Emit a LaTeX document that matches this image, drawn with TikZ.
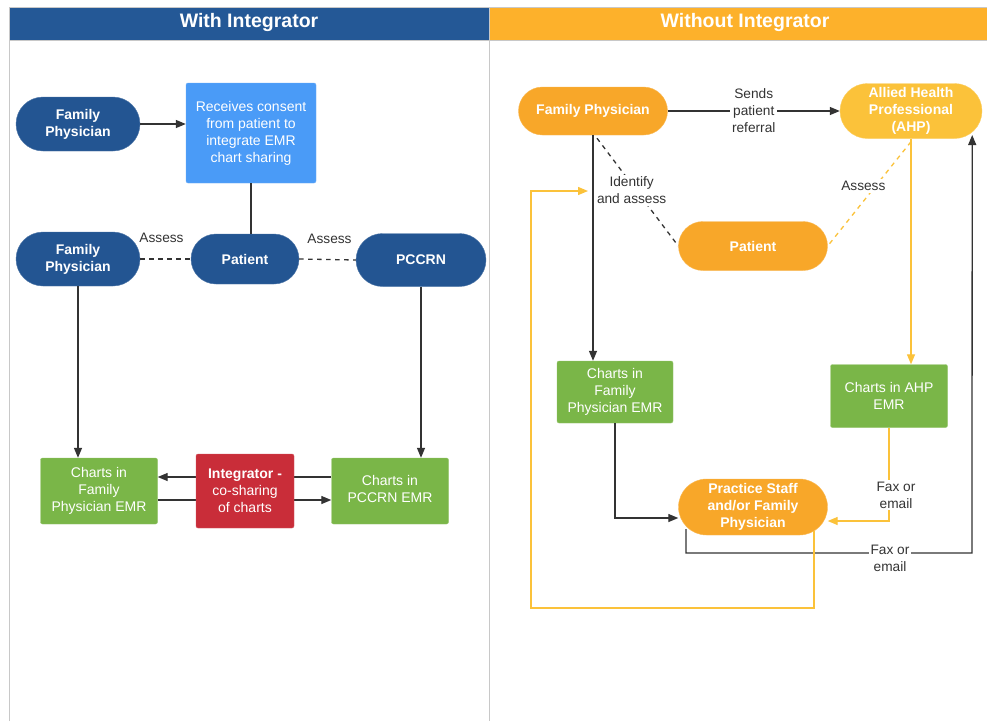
\documentclass[tikz,border=0pt]{standalone}
\usepackage{fontspec}
\setmainfont{Liberation Sans}
\usetikzlibrary{arrows.meta,calc}
\definecolor{hblue}{HTML}{245896}
\definecolor{nblue}{HTML}{235592}
\definecolor{lblue}{HTML}{4A9BF7}
\definecolor{horange}{HTML}{FDB12B}
\definecolor{norange}{HTML}{F8A729}
\definecolor{nyellow}{HTML}{FBC23A}
\definecolor{ngreen}{HTML}{7AB648}
\definecolor{nred}{HTML}{C92D39}
\definecolor{framegrey}{HTML}{C8C8C8}
\definecolor{ink}{HTML}{333333}
\pgfdeclarelayer{bg}
\pgfdeclarelayer{back}
\pgfsetlayers{back,bg,main}
\tikzset{
  base/.style={inner sep=0pt, align=center, text=white, font=\fontsize{14}{17}\selectfont},
  pill/.style={base, font=\fontsize{14}{17}\selectfont\bfseries, rounded corners=#1},
  bluepill/.style={pill=#1, fill=nblue, draw=nblue!80!white},
  orapill/.style={pill=#1, fill=norange, draw=norange!80!white},
  yelpill/.style={pill=#1, fill=nyellow, draw=nyellow!80!white},
  box/.style={base, rounded corners=2pt},
  greenbox/.style={box, fill=ngreen, draw=ngreen!80!white},
  conn/.style={draw=ink, line width=1.3pt},
  yconn/.style={draw=nyellow, line width=1.3pt},
  arr/.style={-{Triangle[length=10pt,width=8pt]}},
  dashln/.style={dash pattern=on 4.5pt off 4.5pt},
  lbl/.style={font=\fontsize{13.7}{17}\selectfont, text=ink, align=center, fill=white, inner sep=2pt},
  hdr/.style={font=\fontsize{19.5}{21}\selectfont\bfseries, text=white},
}
\begin{document}
\begin{tikzpicture}[x=1pt,y=-1pt]
\useasboundingbox (0,0) rectangle (987,721);
\begin{pgfonlayer}{back}
\fill[white] (0,0) rectangle (987,721);
\end{pgfonlayer}
% frame and headers
\fill[hblue] (9,7) rectangle (489,40);
\fill[horange] (489,7) rectangle (987,40);
\draw[framegrey, line width=1pt] (9,721) -- (9,7) -- (987,7);
\draw[framegrey, line width=1pt] (489,7) -- (489,721);
\draw[framegrey, line width=1pt] (9,40) -- (987,40);
\node[hdr] (h1) at (249,22) {With Integrator};
\node[hdr] (h2) at (745,22) {Without Integrator};

% left panel
\node[bluepill=27pt, minimum width=124pt, minimum height=54pt] (fpa) at (78,124) {Family\\Physician};
\node[box, fill=lblue, draw=lblue!80!white, minimum width=130pt, minimum height=100pt] (consent) at (251,133) {Receives consent\\from patient to\\integrate EMR\\chart sharing};
\node[bluepill=27pt, minimum width=124pt, minimum height=54pt] (fpb) at (78,259) {Family\\Physician};
\node[bluepill=25pt, minimum width=108pt, minimum height=50pt] (pat) at (245,259) {Patient};
\node[bluepill=26.5pt, minimum width=130pt, minimum height=53pt] (pccrn) at (421,260) {PCCRN};
\node[greenbox, minimum width=117pt, minimum height=66pt] (cfp) at (99,491) {Charts in\\Family\\Physician EMR};
\node[box, fill=nred, draw=nred!80!white, minimum width=98pt, minimum height=74pt] (integ) at (245,491) {\textbf{Integrator -}\\co-sharing\\of charts};
\node[greenbox, minimum width=117pt, minimum height=66pt] (cpc) at (390,491) {\raisebox{3pt}{\begin{tabular}{@{}c@{}}Charts in\\PCCRN EMR\end{tabular}}};

\draw[conn, arr] (fpa.east) -- (consent.west |- fpa.east);
\draw[conn] (consent.south) -- (consent.south |- pat.north);
\draw[conn, dashln] (fpb.east) -- node[lbl, fill=none, yshift=21pt, xshift=-4pt] {Assess} (pat.west);
\draw[conn, dashln] (pat.east) -- node[lbl, fill=none, yshift=21pt, xshift=2pt] {Assess} (pccrn.west);
\draw[conn, arr] (fpb.south) -- (fpb.south |- cfp.north);
\draw[conn, arr] (pccrn.south) -- (pccrn.south |- cfp.north);
\begin{pgfonlayer}{bg}
\draw[conn, arr] ($(cpc.west)+(0,-14)$) -- ($(cfp.east)+(0,-14)$);
\draw[conn, arr] ($(cfp.east)+(0,9)$) -- ($(cpc.west)+(0,9)$);
\end{pgfonlayer}

% right panel
\node[orapill=24pt, minimum width=149pt, minimum height=48pt] (rfp) at (593,111) {Family Physician};
\node[yelpill=27.5pt, minimum width=142pt, minimum height=55pt] (ahp) at (911,111) {Allied Health\\Professional\\(AHP)};
\node[orapill=24.5pt, minimum width=149pt, minimum height=49pt] (rpat) at (753,246) {Patient};
\node[greenbox, minimum width=116pt, minimum height=62pt] (rcfp) at (615,392) {Charts in\\Family\\Physician EMR};
\node[greenbox, minimum width=117pt, minimum height=63pt] (rcahp) at (889,396) {Charts in AHP\\EMR};
\node[orapill=28pt, minimum width=149pt, minimum height=56pt] (staff) at (753,507) {Practice Staff\\and/or Family\\Physician};

\coordinate (loopend) at (588,191);
\coordinate (faxturn) at (972,553);

\draw[conn, arr] (rfp.east) -- node[lbl] {Sends\\patient\\referral} (ahp.west);
\draw[conn, dashln] ($(rfp.south)+(4,3)$) -- node[lbl, xshift=-6pt, yshift=2pt] {Identify\\and assess} (rpat.west);
\draw[yconn, dashln] ($(ahp.south)+(0,3)$) -- node[lbl, text=ink, xshift=-6pt, yshift=8pt] {Assess} (rpat.east);
\draw[conn, arr] (rfp.south) -- (rfp.south |- rcfp.north);
\draw[conn, arr] (rcfp.south) |- ($(staff.west)+(0,11)$);
\draw[yconn, arr] (ahp.south) -- (ahp.south |- rcahp.north);
\draw[yconn, arr] (rcahp.south) |- node[lbl, pos=0.36, xshift=7pt] {Fax or\\email} ($(staff.east)+(0,14)$);
\draw[conn, arr] ($(staff.center)+(-67,22)$) |- (faxturn) -- ($(ahp.east)+(-10,24)$);
\node[lbl] (faxlbl) at (890,558) {Fax or\\email};
\draw[yconn, arr] ($(staff.center)+(61,24)$) -- ++(0,77) -| (531,191) -- (loopend);
\end{tikzpicture}
\end{document}
